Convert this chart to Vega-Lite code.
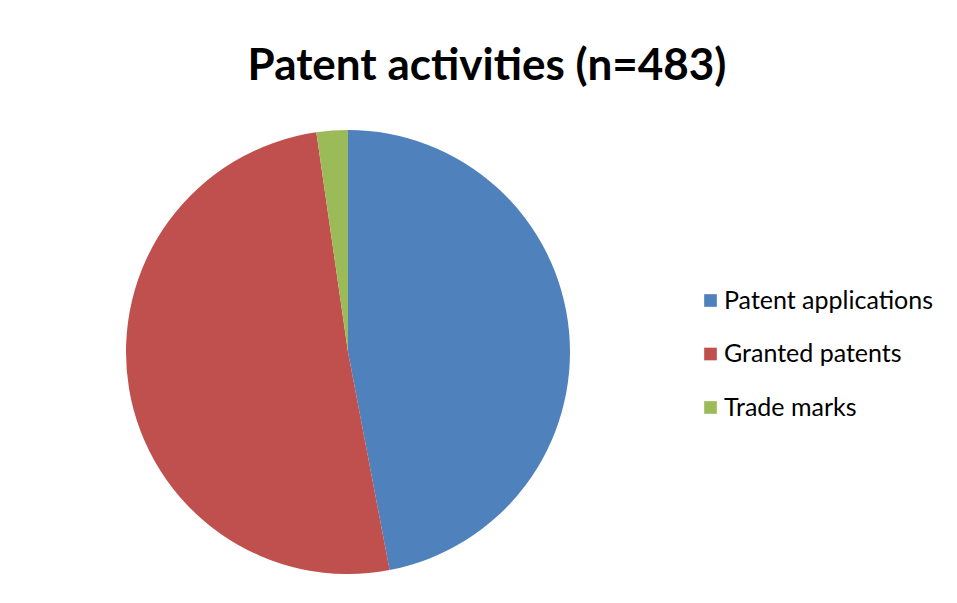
{
  "$schema": "https://vega.github.io/schema/vega-lite/v6.json",
  "autosize": "none",
  "width": 688,
  "height": 688,
  "padding": {"left": 4, "top": 8, "right": 265, "bottom": 0},
  "background": "white",
  "config": {"view": {"stroke": null}, "font": "Lato"},
  "title": {"text": "Patent activities (n=483)", "font": "Lato", "fontSize": 44, "fontWeight": "bold", "color": "#000000", "anchor": "middle", "dx": 139, "offset": -81, "orient": "top"},
  "data": {"values": [
    {"activity": "Patent applications", "count": 227, "k": 1},
    {"activity": "Granted patents", "count": 245, "k": 2},
    {"activity": "Trade marks", "count": 11, "k": 3}
  ]},
  "mark": {"type": "arc", "outerRadius": 222},
  "encoding": {
    "theta": {"field": "count", "type": "quantitative", "stack": true},
    "order": {"field": "k", "type": "quantitative"},
    "color": {
      "field": "activity", "type": "nominal",
      "scale": {"domain": ["Patent applications", "Granted patents", "Trade marks"], "range": ["#4F81BD", "#C0504D", "#9BBB59"]},
      "legend": {"title": null, "orient": "none", "legendX": 694, "legendY": 280, "padding": 0, "symbolType": "square", "symbolSize": 160, "symbolStrokeWidth": 0, "labelFont": "Lato", "labelFontSize": 25, "labelLimit": 400, "labelColor": "#000000", "rowPadding": 27.5, "labelOffset": 1}
    }
  }
}
